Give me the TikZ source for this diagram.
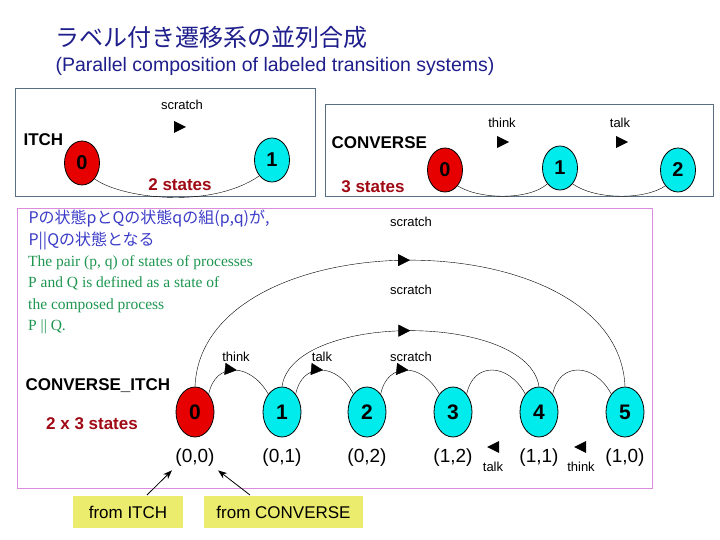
\documentclass[tikz,border=0pt]{standalone}
\usepackage{fontspec}
\setmainfont{Liberation Sans}
\newfontfamily\jpfont{Noto Sans CJK JP}
\newfontfamily\serifgreen{Liberation Serif}
\usetikzlibrary{arrows.meta,decorations.markings,shapes.geometric}
\definecolor{stred}{RGB}{230,0,0}
\definecolor{stcyan}{RGB}{0,235,235}
\definecolor{darkred}{RGB}{160,10,20}
\definecolor{titleblue}{RGB}{30,30,140}
\definecolor{jpblue}{RGB}{60,60,200}
\definecolor{engreen}{RGB}{30,150,80}
\definecolor{boxgray}{RGB}{90,110,130}
\definecolor{pinkb}{RGB}{220,140,220}
\definecolor{yel}{RGB}{235,235,110}
\tikzset{
  st/.style={ellipse,draw=black,thick,minimum width=38pt,minimum height=50pt,inner sep=0pt,font=\bfseries\fontsize{21}{21}\selectfont},
  sst/.style={ellipse,draw=black,thick,minimum width=35pt,minimum height=44pt,inner sep=0pt,font=\bfseries\fontsize{20}{20}\selectfont},
  rd/.style={fill=stred}, cy/.style={fill=stcyan},
  lbl/.style={font=\fontsize{13}{13}\selectfont},
  midarrow/.style={decoration={markings,mark=at position 0.5 with {\arrow{Triangle[length=12pt,width=12pt]}}},postaction={decorate}},
  cnt/.style={font=\bfseries\fontsize{17}{17}\selectfont,text=darkred},
  pair/.style={font=\fontsize{19}{19}\selectfont},
  ybox/.style={fill=yel,minimum width=110pt,minimum height=32pt,font=\fontsize{17}{17}\selectfont}
}
\newcommand{\rtri}{\tikz\fill (0,0)--(12pt,6pt)--(0,12pt)--cycle;}
\newcommand{\ltri}{\tikz\fill (12pt,0)--(0,6pt)--(12pt,12pt)--cycle;}
\begin{document}
\begin{tikzpicture}[x=1pt,y=-1pt]
\useasboundingbox[fill=white] (0,0) rectangle (720,540);
\node[anchor=west,text=titleblue,font=\jpfont\fontsize{24}{24}\selectfont] (t1) at (52,37) {ラベル付き遷移系の並列合成};
\node[anchor=west,text=titleblue,font=\fontsize{19.5}{20}\selectfont] (t2) at (52,66) {(Parallel composition of labeled transition systems)};
% ITCH
\draw[boxgray,thick] (15,88) rectangle (315,196);
\node[anchor=west,font=\bfseries\fontsize{17}{17}\selectfont] (itch) at (20,140) {ITCH};
\node[sst,rd] (i0) at (82,163) {0};
\node[sst,cy] (i1) at (272,160) {1};
\draw (i0.south east) .. controls (120,198) and (210,210) .. (i1.south west);
\node[lbl] (isc) at (182,105) {scratch};
\node (ia) at (180,127) {\rtri};
\node[cnt] (i2s) at (180,185) {2 states};
% CONVERSE
\draw[boxgray,thick] (325,104) rectangle (713,196);
\node[anchor=west,font=\bfseries\fontsize{17}{17}\selectfont] (conv) at (328,143) {CONVERSE};
\node[sst,rd] (c0) at (445,170) {0};
\node[sst,cy] (c1) at (560,168) {1};
\node[sst,cy] (c2) at (678,170) {2};
\draw (c0.south east) .. controls (480,200) and (530,200) .. (c1.south west);
\draw (c1.south east) .. controls (595,200) and (645,200) .. (c2.south west);
\node[lbl] (cth) at (502,123) {think};
\node[lbl] (ctk) at (620,123) {talk};
\node (ca1) at (503,142) {\rtri};
\node (ca2) at (622,142) {\rtri};
\node[cnt] (c3s) at (373,187) {3 states};
% composition
\draw[pinkb] (17,208) rectangle (652,488);
\node[anchor=west,text=jpblue,font=\jpfont\fontsize{16}{16}\selectfont] (j1) at (25,219) {Pの状態pとQの状態qの組(p,q)が,};
\node[anchor=west,text=jpblue,font=\jpfont\fontsize{16}{16}\selectfont] (j2) at (25,241) {P||Qの状態となる};
\node[anchor=north west,text=engreen,font=\serifgreen\fontsize{15.5}{21.5}\selectfont,align=left,inner sep=0pt] (eng) at (28,255) {The pair (p, q) of states of processes\\P and Q is defined as a state of\\the composed process\\P || Q.};
\node[anchor=west,font=\bfseries\fontsize{17}{17}\selectfont] (ci) at (22,386) {CONVERSE\_ITCH};
\node[cnt] (c6s) at (92,424) {2 x 3 states};
\foreach \i/\x/\s in {0/195/rd,1/282/cy,2/367/cy,3/453/cy,4/539/cy,5/625/cy}{
  \node[st,\s] (n\i) at (\x,412) {\i};
}
\draw[midarrow] (n0.north east) .. controls (215,362) and (250,362) .. (n1.north west);
\draw[midarrow] (n1.north east) .. controls (302,362) and (337,362) .. (n2.north west);
\draw[midarrow] (n2.north east) .. controls (387,362) and (422,362) .. (n3.north west);
\draw (n3.north east) .. controls (473,362) and (508,362) .. (n4.north west);
\draw (n4.north east) .. controls (559,362) and (594,362) .. (n5.north west);
\draw[midarrow] (n1.north) .. controls (292,312) and (528,312) .. (n4.north);
\draw[midarrow] (n0.north) .. controls (202,218) and (618,218) .. (n5.north);
\node[lbl] (l1) at (236,357) {think};
\node[lbl] (l2) at (322,357) {talk};
\node[lbl] (l3) at (411,357) {scratch};
\node[lbl] (l4) at (411,290) {scratch};
\node[lbl] (l5) at (411,222) {scratch};
\foreach \i/\x/\t in {0/195/{(0,0)},1/282/{(0,1)},2/367/{(0,2)},3/453/{(1,2)},4/539/{(1,1)},5/625/{(1,0)}}{
  \node[pair] (p\i) at (\x,458) {\t};
}
\node[lbl] (b1) at (493,467) {talk};
\node[lbl] (b2) at (581,467) {think};
\node (ba1) at (493,447) {\ltri};
\node (ba2) at (580,447) {\ltri};
\node[ybox] (fi) at (128,512) {from ITCH};
\node[ybox,minimum width=159pt] (fc) at (283.5,512) {from CONVERSE};
\draw[-{Stealth[length=9pt]},thick] (147,495) -- (p0.south west);
\draw[-{Stealth[length=9pt]},thick] (250,495) -- (p0.south east);
\end{tikzpicture}
\end{document}
